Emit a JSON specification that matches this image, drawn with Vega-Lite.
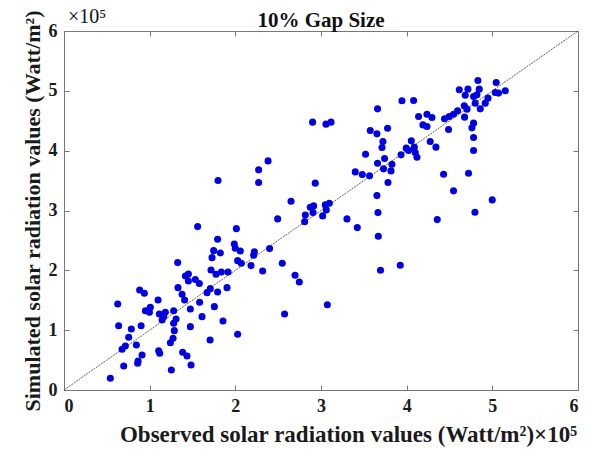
{
  "$schema": "https://vega.github.io/schema/vega-lite/v6.json",
  "autosize": "none",
  "width": 514,
  "height": 359,
  "padding": {"left": 64, "top": 31, "right": 20, "bottom": 65},
  "background": "white",
  "title": {
    "text": "10% Gap Size",
    "font": "Liberation Serif",
    "fontSize": 21,
    "fontWeight": "bold",
    "color": "#111",
    "anchor": "middle",
    "offset": 0,
    "dy": 24
  },
  "datasets": {
    "points": [
      {"obs": 141700, "sim": 190600}, {"obs": 145200, "sim": 194000}, {"obs": 145200, "sim": 182300},
      {"obs": 153300, "sim": 184800}, {"obs": 158000, "sim": 178100}, {"obs": 88300, "sim": 167200},
      {"obs": 93800, "sim": 161700}, {"obs": 133100, "sim": 171100}, {"obs": 137800, "sim": 160000},
      {"obs": 140800, "sim": 150500}, {"obs": 62700, "sim": 143800}, {"obs": 109800, "sim": 150500},
      {"obs": 158300, "sim": 146700}, {"obs": 100800, "sim": 138300}, {"obs": 95000, "sim": 132600},
      {"obs": 99700, "sim": 129900}, {"obs": 111300, "sim": 127100}, {"obs": 118300, "sim": 129900},
      {"obs": 128000, "sim": 132600}, {"obs": 114500, "sim": 117100}, {"obs": 116300, "sim": 122600},
      {"obs": 130800, "sim": 118700}, {"obs": 128000, "sim": 111500}, {"obs": 147500, "sim": 135500},
      {"obs": 147500, "sim": 105900}, {"obs": 63800, "sim": 107500}, {"obs": 90000, "sim": 107500},
      {"obs": 78600, "sim": 102000}, {"obs": 128800, "sim": 99200}, {"obs": 75500, "sim": 88100},
      {"obs": 127300, "sim": 86500}, {"obs": 71600, "sim": 73600}, {"obs": 67800, "sim": 68100},
      {"obs": 84500, "sim": 75300}, {"obs": 124200, "sim": 79100}, {"obs": 110500, "sim": 65700},
      {"obs": 111700, "sim": 61400}, {"obs": 91100, "sim": 58500}, {"obs": 138500, "sim": 63000},
      {"obs": 143600, "sim": 56900}, {"obs": 86500, "sim": 48500}, {"obs": 86000, "sim": 44600},
      {"obs": 69700, "sim": 40100}, {"obs": 148300, "sim": 41800}, {"obs": 125300, "sim": 33400},
      {"obs": 54100, "sim": 19600}, {"obs": 179800, "sim": 350000}, {"obs": 227200, "sim": 346700},
      {"obs": 227200, "sim": 367900}, {"obs": 156000, "sim": 273100}, {"obs": 201200, "sim": 269700},
      {"obs": 249400, "sim": 286000}, {"obs": 179300, "sim": 252000}, {"obs": 198800, "sim": 244100},
      {"obs": 200000, "sim": 237000}, {"obs": 205800, "sim": 232400}, {"obs": 174700, "sim": 232900},
      {"obs": 182500, "sim": 229100}, {"obs": 222200, "sim": 230800}, {"obs": 221400, "sim": 225200},
      {"obs": 240000, "sim": 236300}, {"obs": 172800, "sim": 221200}, {"obs": 132700, "sim": 212900},
      {"obs": 202700, "sim": 216200}, {"obs": 207000, "sim": 211900}, {"obs": 218300, "sim": 207900},
      {"obs": 231900, "sim": 199000}, {"obs": 171600, "sim": 200700}, {"obs": 177500, "sim": 193500},
      {"obs": 183700, "sim": 197300}, {"obs": 191500, "sim": 197300}, {"obs": 170800, "sim": 169400},
      {"obs": 167000, "sim": 162700}, {"obs": 179300, "sim": 163900}, {"obs": 190300, "sim": 171100},
      {"obs": 254800, "sim": 211900}, {"obs": 293300, "sim": 345700}, {"obs": 378200, "sim": 346700},
      {"obs": 365300, "sim": 324900}, {"obs": 454700, "sim": 332800}, {"obs": 499900, "sim": 317700},
      {"obs": 366500, "sim": 296500}, {"obs": 479700, "sim": 297200}, {"obs": 435700, "sim": 284800},
      {"obs": 265000, "sim": 315600}, {"obs": 287500, "sim": 305500}, {"obs": 291400, "sim": 307700},
      {"obs": 290700, "sim": 296500}, {"obs": 281700, "sim": 292600}, {"obs": 280900, "sim": 281400},
      {"obs": 301900, "sim": 291000}, {"obs": 305000, "sim": 309400}, {"obs": 309700, "sim": 312200},
      {"obs": 306200, "sim": 301000}, {"obs": 330300, "sim": 286000}, {"obs": 342400, "sim": 271400},
      {"obs": 366900, "sim": 257000}, {"obs": 369500, "sim": 200200}, {"obs": 392500, "sim": 208500},
      {"obs": 269700, "sim": 191800}, {"obs": 274700, "sim": 180600}, {"obs": 307400, "sim": 142600},
      {"obs": 257500, "sim": 127100}, {"obs": 185600, "sim": 115400}, {"obs": 175500, "sim": 139300},
      {"obs": 161100, "sim": 122600}, {"obs": 202700, "sim": 93100}, {"obs": 170500, "sim": 83600},
      {"obs": 290200, "sim": 447700}, {"obs": 305800, "sim": 444300}, {"obs": 311700, "sim": 447700},
      {"obs": 366000, "sim": 469900}, {"obs": 357500, "sim": 433600}, {"obs": 365300, "sim": 428100},
      {"obs": 238200, "sim": 382900}, {"obs": 352000, "sim": 394100}, {"obs": 366000, "sim": 379100},
      {"obs": 340000, "sim": 364500}, {"obs": 348200, "sim": 360000}, {"obs": 356700, "sim": 357900},
      {"obs": 461400, "sim": 501700}, {"obs": 471500, "sim": 502800}, {"obs": 468400, "sim": 492500},
      {"obs": 394500, "sim": 483300}, {"obs": 408100, "sim": 483800}, {"obs": 467200, "sim": 474900},
      {"obs": 470400, "sim": 469400}, {"obs": 459400, "sim": 466600}, {"obs": 454700, "sim": 461000},
      {"obs": 449700, "sim": 457000}, {"obs": 444200, "sim": 453200}, {"obs": 467600, "sim": 456000},
      {"obs": 413900, "sim": 457000}, {"obs": 423700, "sim": 461000}, {"obs": 429500, "sim": 455300},
      {"obs": 419000, "sim": 443100}, {"obs": 423700, "sim": 440300}, {"obs": 448900, "sim": 435300},
      {"obs": 377700, "sim": 437600}, {"obs": 372300, "sim": 415200}, {"obs": 371200, "sim": 405200},
      {"obs": 405400, "sim": 416400}, {"obs": 399500, "sim": 404200}, {"obs": 402200, "sim": 400200},
      {"obs": 408900, "sim": 405900}, {"obs": 410000, "sim": 396800}, {"obs": 412000, "sim": 389100},
      {"obs": 427500, "sim": 415200}, {"obs": 434200, "sim": 405900}, {"obs": 393400, "sim": 393000},
      {"obs": 374200, "sim": 386800}, {"obs": 373000, "sim": 369600}, {"obs": 382800, "sim": 377400},
      {"obs": 381700, "sim": 366200}, {"obs": 443100, "sim": 360700}, {"obs": 472200, "sim": 362400},
      {"obs": 483200, "sim": 517200}, {"obs": 504500, "sim": 513900}, {"obs": 484700, "sim": 502800},
      {"obs": 515100, "sim": 500000}, {"obs": 503400, "sim": 497200}, {"obs": 507200, "sim": 496200},
      {"obs": 478100, "sim": 490500}, {"obs": 482000, "sim": 493300}, {"obs": 494900, "sim": 487800},
      {"obs": 491700, "sim": 479400}, {"obs": 480000, "sim": 479400}, {"obs": 485900, "sim": 469900},
      {"obs": 478100, "sim": 446000}, {"obs": 476200, "sim": 438100}, {"obs": 478100, "sim": 421900},
      {"obs": 478100, "sim": 400200}
    ],
    "diagonal": [
      {"obs": 0, "sim": 0},
      {"obs": 600000, "sim": 600000}
    ],
    "exponent": [
      {"obs": 0, "sim": 600000, "label": "×10⁵"}
    ]
  },
  "layer": [
    {
      "data": {"name": "diagonal"},
      "mark": {"type": "line", "color": "#333333", "strokeWidth": 0.8, "strokeDash": [2, 1]},
      "encoding": {
        "x": {
          "field": "obs", "type": "quantitative",
          "scale": {"domain": [0, 600000], "nice": false},
          "axis": {"orient": "top", "labels": false, "title": null, "values": [0, 100000, 200000, 300000, 400000, 500000, 600000]}
        },
        "y": {
          "field": "sim", "type": "quantitative",
          "scale": {"domain": [0, 600000], "nice": false},
          "axis": {"orient": "right", "labels": false, "title": null, "values": [0, 100000, 200000, 300000, 400000, 500000, 600000]}
        }
      }
    },
    {
      "data": {"name": "points"},
      "mark": {"type": "circle", "size": 50, "color": "#0000e0", "opacity": 1},
      "encoding": {
        "x": {
          "field": "obs", "type": "quantitative",
          "scale": {"domain": [0, 600000], "nice": false},
          "axis": {
            "orient": "bottom",
            "values": [0, 100000, 200000, 300000, 400000, 500000, 600000],
            "labelExpr": "format(datum.value / 100000, 'd')",
            "title": "Observed solar radiation values (Watt/m²)×10⁵",
            "titleFontSize": 23,
            "titlePadding": 8,
            "titleX": 284
          }
        },
        "y": {
          "field": "sim", "type": "quantitative",
          "scale": {"domain": [0, 600000], "nice": false},
          "axis": {
            "orient": "left",
            "values": [0, 100000, 200000, 300000, 400000, 500000, 600000],
            "labelExpr": "format(datum.value / 100000, 'd')",
            "title": "Simulated solar radiation values (Watt/m²)",
            "titleFontSize": 22,
            "titlePadding": 4
          }
        }
      }
    },
    {
      "data": {"name": "exponent"},
      "mark": {"type": "text", "align": "left", "baseline": "alphabetic", "dx": 4, "dy": -8, "font": "Liberation Serif", "fontSize": 20, "color": "#111"},
      "encoding": {
        "x": {"field": "obs", "type": "quantitative", "axis": null},
        "y": {"field": "sim", "type": "quantitative", "axis": null},
        "text": {"field": "label"}
      }
    }
  ],
  "resolve": {"axis": {"x": "independent", "y": "independent"}},
  "config": {
    "view": {"stroke": "#777777", "strokeWidth": 1},
    "axis": {
      "grid": false,
      "domainColor": "#777777",
      "tickColor": "#777777",
      "tickSize": -5,
      "labelPadding": 12,
      "labelFont": "Liberation Serif",
      "labelFontWeight": "bold",
      "labelFontSize": 18,
      "labelColor": "#1a1a1a",
      "titleFont": "Liberation Serif",
      "titleFontWeight": "bold",
      "titleFontSize": 19,
      "titleColor": "#1a1a1a"
    }
  }
}
